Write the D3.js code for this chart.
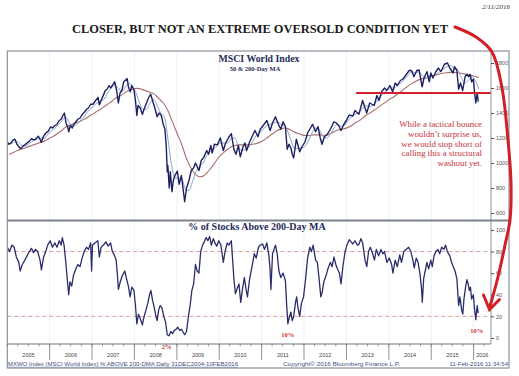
<!DOCTYPE html>
<html><head><meta charset="utf-8">
<script src="https://cdn.jsdelivr.net/npm/d3@7"></script>
<style>body{margin:0;background:#fff}svg{display:block}</style>
</head><body>
<svg id="c" width="519" height="376"></svg>
<script>
// ---------------- DATA ----------------
const priceDates = ["2004-12-31","2005-01-15","2005-02-01","2005-02-20","2005-03-08","2005-03-25","2005-04-15","2005-04-28","2005-05-15","2005-06-01","2005-06-20","2005-07-10","2005-07-28","2005-08-15","2005-09-01","2005-09-25","2005-10-10","2005-10-20","2005-11-10","2005-11-30","2005-12-20",
"2006-01-10","2006-01-25","2006-02-15","2006-03-05","2006-03-25","2006-04-10","2006-04-25","2006-05-08","2006-05-22","2006-06-05","2006-06-14","2006-06-28","2006-07-15","2006-07-28","2006-08-15","2006-09-01","2006-09-20","2006-10-10","2006-10-30","2006-11-15","2006-12-01","2006-12-20",
"2007-01-10","2007-02-01","2007-02-22","2007-03-05","2007-03-20","2007-04-10","2007-04-25","2007-05-10","2007-05-28","2007-06-10","2007-06-28","2007-07-15","2007-08-01","2007-08-16","2007-08-30","2007-09-15","2007-10-01","2007-10-31","2007-11-10","2007-11-26","2007-12-10","2007-12-28",
"2008-01-10","2008-01-22","2008-02-01","2008-02-20","2008-03-10","2008-03-20","2008-04-10","2008-05-01","2008-05-20","2008-06-05","2008-06-25","2008-07-15","2008-08-01","2008-08-20","2008-09-05","2008-09-20","2008-10-01","2008-10-10","2008-10-15","2008-10-27","2008-11-05","2008-11-20","2008-12-01","2008-12-15",
"2009-01-05","2009-01-20","2009-02-09","2009-02-25","2009-03-09","2009-03-25","2009-04-15","2009-05-05","2009-05-25","2009-06-10","2009-07-10","2009-07-30","2009-08-20","2009-09-15","2009-10-01","2009-10-20","2009-11-01","2009-11-20","2009-12-15",
"2010-01-10","2010-02-05","2010-02-25","2010-03-20","2010-04-15","2010-05-07","2010-05-25","2010-06-15","2010-07-01","2010-07-25","2010-08-10","2010-08-25","2010-09-20","2010-10-15","2010-11-05","2010-11-30","2010-12-20",
"2011-01-15","2011-02-15","2011-03-15","2011-04-05","2011-04-30","2011-05-25","2011-06-15","2011-07-05","2011-07-25","2011-08-09","2011-08-25","2011-09-10","2011-09-22","2011-10-04","2011-10-27","2011-11-25","2011-12-15",
"2012-01-10","2012-02-01","2012-03-15","2012-04-10","2012-05-01","2012-05-20","2012-06-04","2012-06-25","2012-07-20","2012-08-15","2012-09-15","2012-10-05","2012-10-25","2012-11-15","2012-12-10","2012-12-31",
"2013-01-25","2013-02-25","2013-03-15","2013-04-18","2013-05-20","2013-06-10","2013-06-24","2013-07-20","2013-08-28","2013-09-20","2013-10-08","2013-10-30","2013-11-25","2013-12-15",
"2014-01-10","2014-02-03","2014-02-25","2014-03-15","2014-04-10","2014-04-30","2014-05-25","2014-06-25","2014-07-15","2014-08-05","2014-08-30","2014-09-18","2014-10-15","2014-10-31","2014-11-25","2014-12-15","2014-12-29",
"2015-01-15","2015-02-10","2015-03-05","2015-03-25","2015-04-25","2015-05-21","2015-06-10","2015-07-08","2015-07-20","2015-08-10","2015-08-25","2015-09-10","2015-09-29","2015-10-20","2015-11-05","2015-11-20","2015-12-02","2015-12-15","2015-12-30",
"2016-01-08","2016-01-20","2016-02-01","2016-02-10"];
const priceValues = [1169,1150,1160,1185,1190,1150,1125,1115,1135,1145,1160,1175,1195,1185,1190,1215,1190,1165,1215,1240,1255,
1290,1280,1300,1310,1340,1350,1380,1400,1320,1290,1250,1300,1280,1310,1330,1350,1360,1390,1410,1430,1440,1470,
1470,1500,1525,1465,1500,1545,1580,1590,1620,1600,1625,1650,1580,1480,1560,1580,1650,1675,1610,1570,1620,1585,
1500,1380,1460,1440,1390,1420,1470,1520,1550,1500,1440,1370,1400,1380,1310,1270,1140,930,980,800,930,770,860,900,
935,830,900,780,690,800,860,940,960,1000,940,1020,1045,1100,1070,1140,1080,1150,1145,
1200,1100,1160,1200,1235,1110,1070,1140,1050,1130,1160,1100,1170,1220,1260,1210,1270,
1300,1340,1260,1320,1370,1310,1270,1330,1290,1110,1150,1120,1070,1040,1190,1090,1130,
1170,1240,1310,1250,1290,1200,1150,1210,1230,1270,1330,1320,1300,1260,1310,1340,
1385,1375,1420,1390,1500,1440,1400,1480,1460,1540,1500,1570,1600,1580,
1620,1570,1640,1620,1660,1670,1700,1740,1740,1690,1740,1745,1610,1680,1730,1650,1720,
1680,1730,1760,1730,1790,1800,1760,1720,1770,1740,1590,1640,1580,1690,1710,1690,1710,1650,1670,
1580,1480,1560,1490];

// moving averages: one value per month, starting January 2005
const maStartMonth = "2005-01";
const ma50Values = [1150,1160,1175,1160,1135,1140,1160,1180,1190,1200,1195,1230,
1255,1280,1305,1335,1370,1330,1295,1305,1335,1360,1400,1430,
1455,1480,1495,1510,1560,1600,1620,1600,1570,1610,1640,1610,
1560,1480,1430,1430,1480,1510,1460,1400,1370,1200,990,880,
880,870,790,780,850,930,970,1000,1060,1090,1110,1140,
1160,1160,1160,1200,1200,1130,1100,1110,1130,1170,1220,1240,
1270,1300,1310,1320,1330,1310,1300,1250,1170,1110,1120,1120,
1140,1190,1250,1280,1260,1210,1200,1230,1280,1310,1295,1300,
1340,1370,1390,1400,1430,1460,1450,1460,1490,1520,1560,1580,
1600,1600,1620,1640,1670,1700,1730,1720,1730,1700,1680,1700,
1700,1710,1730,1750,1770,1780,1760,1750,1690,1640,1660,1690,
1660,1590];
const ma200Values = [1070,1080,1095,1105,1115,1125,1135,1145,1155,1165,1175,1190,
1205,1220,1240,1260,1285,1300,1310,1320,1330,1345,1360,1380,
1395,1415,1430,1450,1470,1490,1515,1530,1545,1565,1580,1590,
1597,1595,1585,1575,1565,1555,1530,1500,1470,1420,1350,1280,
1210,1140,1060,990,940,905,890,895,920,950,990,1030,
1065,1090,1110,1130,1140,1145,1145,1145,1145,1150,1155,1165,
1180,1200,1220,1240,1260,1270,1280,1275,1260,1245,1235,1225,
1220,1220,1225,1225,1225,1222,1222,1235,1250,1262,1270,1275,
1285,1300,1320,1335,1355,1380,1395,1415,1435,1455,1475,1495,
1515,1530,1550,1570,1595,1615,1635,1650,1665,1675,1680,1690,
1700,1705,1712,1718,1722,1725,1725,1722,1718,1712,1705,1700,
1692,1685];

const supportLevel = 1560;
const supportStart = "2013-03-25";

const pctDates = ["2005-01-01","2005-01-20","2005-02-10","2005-03-01","2005-03-20","2005-04-10","2005-04-22","2005-05-10","2005-06-01","2005-06-20","2005-07-10","2005-07-28","2005-08-15","2005-09-01","2005-09-20","2005-10-10","2005-10-22","2005-11-10","2005-11-28","2005-12-15",
"2006-01-05","2006-01-25","2006-02-15","2006-03-05","2006-03-25","2006-04-10","2006-04-20","2006-05-05","2006-05-20","2006-06-01","2006-06-14","2006-06-25","2006-07-10","2006-07-25","2006-08-15","2006-09-01","2006-09-20","2006-10-05","2006-10-25","2006-11-15","2006-12-01","2006-12-20","2006-12-28",
"2007-01-05","2007-01-25","2007-02-20","2007-03-05","2007-03-20","2007-04-10","2007-04-30","2007-05-20","2007-06-10","2007-06-25","2007-07-15","2007-07-28","2007-08-10","2007-08-16","2007-09-01","2007-09-20","2007-10-10","2007-10-25","2007-11-10","2007-11-25","2007-12-10","2007-12-28",
"2008-01-10","2008-01-22","2008-02-05","2008-02-20","2008-03-10","2008-03-20","2008-04-10","2008-04-25","2008-05-10","2008-05-22","2008-06-05","2008-06-20","2008-07-05","2008-07-15","2008-07-28","2008-08-10","2008-08-25","2008-09-10","2008-09-25","2008-10-10","2008-10-25","2008-11-10","2008-11-25","2008-12-10","2008-12-25",
"2009-01-08","2009-01-25","2009-02-10","2009-02-25","2009-03-10","2009-03-25","2009-04-10","2009-04-25","2009-05-10","2009-05-25","2009-06-10","2009-06-25","2009-07-10","2009-07-25","2009-08-10","2009-08-25","2009-09-10","2009-09-25","2009-10-10","2009-10-25","2009-11-10","2009-11-25","2009-12-10","2009-12-28",
"2010-01-15","2010-02-05","2010-02-20","2010-03-10","2010-03-25","2010-04-15","2010-05-07","2010-05-20","2010-06-05","2010-06-20","2010-07-05","2010-07-20","2010-08-05","2010-08-20","2010-09-01","2010-09-20","2010-10-10","2010-10-30","2010-11-15","2010-12-05","2010-12-20",
"2011-01-10","2011-01-25","2011-02-15","2011-03-05","2011-03-15","2011-03-22","2011-04-05","2011-04-30","2011-05-15","2011-05-30","2011-06-15","2011-07-05","2011-07-25","2011-08-05","2011-08-15","2011-08-25","2011-09-10","2011-09-22","2011-10-04","2011-10-20","2011-10-30","2011-11-10","2011-11-25","2011-12-10","2011-12-28",
"2012-01-15","2012-02-01","2012-02-20","2012-03-05","2012-03-20","2012-04-10","2012-04-25","2012-05-10","2012-05-25","2012-06-05","2012-06-20","2012-07-10","2012-07-25","2012-08-15","2012-08-30","2012-09-15","2012-10-01","2012-10-15","2012-11-01","2012-11-15","2012-12-01","2012-12-20",
"2013-01-05","2013-01-25","2013-02-10","2013-02-25","2013-03-15","2013-04-05","2013-04-20","2013-05-05","2013-05-20","2013-06-10","2013-06-25","2013-07-10","2013-07-25","2013-08-15","2013-08-30","2013-09-15","2013-10-05","2013-10-25","2013-11-10","2013-11-25","2013-12-15",
"2014-01-05","2014-01-25","2014-02-05","2014-02-25","2014-03-15","2014-04-05","2014-04-20","2014-05-10","2014-05-30","2014-06-20","2014-07-10","2014-07-25","2014-08-08","2014-08-25","2014-09-10","2014-09-28","2014-10-10","2014-10-16","2014-10-28","2014-11-10","2014-11-25","2014-12-10","2014-12-28",
"2015-01-10","2015-01-25","2015-02-10","2015-02-28","2015-03-15","2015-04-01","2015-04-20","2015-05-05","2015-05-20","2015-06-10","2015-06-25","2015-07-10","2015-07-25","2015-08-10","2015-08-25","2015-09-05","2015-09-20","2015-09-30","2015-10-10","2015-10-25","2015-11-05","2015-11-15","2015-11-25","2015-12-05","2015-12-15","2015-12-30",
"2016-01-08","2016-01-20","2016-02-01","2016-02-10"];
const pctValues = [84,80,86,84,75,70,62,68,72,76,80,83,79,82,80,72,63,75,80,86,
90,84,88,84,90,86,93,86,70,55,40,52,48,58,64,68,66,73,80,84,82,88,62,
86,88,90,75,84,86,89,85,88,80,76,72,55,45,52,58,62,55,48,38,47,44,
30,13,22,18,12,18,26,32,40,44,35,28,20,16,26,30,28,20,15,3,2,6,4,7,8,
10,7,8,5,3,6,20,30,44,50,68,62,60,80,86,89,93,90,94,86,92,88,85,90,
86,70,80,88,86,90,55,41,46,50,33,45,56,45,38,55,66,78,74,84,86,
87,82,88,76,63,45,78,86,78,62,56,60,53,30,13,18,24,16,20,33,38,28,20,32,38,
55,74,84,80,86,72,70,55,38,42,52,58,64,70,66,75,68,64,60,50,66,80,
86,91,89,87,90,86,87,92,88,72,66,80,84,78,72,82,76,82,78,80,70,
74,68,60,72,66,77,70,80,82,84,80,73,65,74,70,58,45,33,55,62,70,64,72,
66,76,80,82,78,84,82,86,80,76,70,66,62,55,30,38,26,22,36,48,54,50,44,47,36,40,
28,17,30,23];
const pctBands = [80, 20];
const pctCallouts = [{date:"2008-10-05", value:2, text:"2%"},{date:"2011-08-15", value:13, text:"10%"},{date:"2016-01-28", value:17, text:"10%"}];

const priceTicks = [600,800,1000,1200,1400,1600,1800];
const pctTicks = [0,20,40,60,80,100];
const yearLabels = ["2005","2006","2007","2008","2009","2010","2011","2012","2013","2014","2015","2016"];

const mainTitle = "CLOSER, BUT NOT AN EXTREME OVERSOLD CONDITION YET";
const dateStamp = "2/11/2016";
const topTitle = "MSCI World Index";
const topSub = "50 & 200-Day MA";
const botTitle = "% of Stocks Above 200-Day MA";
const noteLines = ["While a tactical bounce","wouldn\u2019t surprise us,","we would stop short of","calling this a structural","washout yet."];
const footLeft = "MXWO Index (MSCI World Index) % ABOVE 200-DMA  Daily 31DEC2004-10FEB2016";
const footMid = "Copyright\u00A9 2016 Bloomberg Finance L.P.";
const footRight = "11-Feb-2016 11:34:54";

// ---------------- DRAWING ----------------
const parse = d3.timeParse("%Y-%m-%d");
const svg = d3.select("#c");
const L = 7.3, R = 491, FR = 509;
const topY0 = 51, topY1 = 220, botY0 = 221, botY1 = 344;

const x = d3.scaleTime().domain([new Date(2005,0,1), new Date(2016,4,30)]).range([L, R]);
const yTop = d3.scaleLinear().domain([544, 1896]).range([topY1, topY0]);
const yBot = d3.scaleLinear().domain([-5.6, 108.3]).range([botY1, botY0]);

const price = priceDates.map((d,i)=>({d:parse(d), v:priceValues[i]}));
const ms = d3.timeParse("%Y-%m")(maStartMonth);
const maDate = i => new Date(ms.getFullYear(), ms.getMonth()+i, 15);
const ma50 = ma50Values.map((v,i)=>({d:maDate(i), v}));
const ma200 = ma200Values.map((v,i)=>({d:maDate(i), v}));
const pct = pctDates.map((d,i)=>({d:parse(d), v:pctValues[i]}));

const defs = svg.append("defs");
defs.append("clipPath").attr("id","clipTop").append("rect").attr("x",L).attr("y",topY0).attr("width",R-L).attr("height",topY1-topY0);
defs.append("clipPath").attr("id","clipBot").append("rect").attr("x",L).attr("y",botY0).attr("width",R-L).attr("height",botY1-botY0);

// faint year gridlines
const years = d3.timeYear.range(new Date(2006,0,1), new Date(2016,1,1));
svg.append("g").selectAll("line").data(years).join("line")
  .attr("x1",d=>x(d)).attr("x2",d=>x(d)).attr("y1",topY0).attr("y2",botY1)
  .attr("stroke","#eef1f6").attr("stroke-width",1);

// ---- top panel ----
const gTop = svg.append("g").attr("clip-path","url(#clipTop)");
const lineTop = d3.line().x(d=>x(d.d)).y(d=>yTop(d.v));
gTop.append("path").datum(ma200).attr("d", lineTop.curve(d3.curveMonotoneX))
  .attr("fill","none").attr("stroke","#a8706c").attr("stroke-width",1.1);
gTop.append("path").datum(ma50).attr("d", lineTop.curve(d3.curveMonotoneX))
  .attr("fill","none").attr("stroke","#88a0cc").attr("stroke-width",1);
gTop.append("path").datum(price).attr("d", d3.line().x(d=>x(d.d)).y(d=>yTop(d.v)))
  .attr("fill","none").attr("stroke","#1d2160").attr("stroke-width",1.4).attr("stroke-linejoin","round");
// support line
svg.append("line").attr("x1",x(parse(supportStart))).attr("x2",R).attr("y1",yTop(supportLevel)).attr("y2",yTop(supportLevel))
  .attr("stroke","#d3222c").attr("stroke-width",2);

// ---- bottom panel ----
const gBot = svg.append("g").attr("clip-path","url(#clipBot)");
gBot.selectAll("line.band").data(pctBands).join("line").attr("class","band")
  .attr("x1",L).attr("x2",R).attr("y1",d=>yBot(d)).attr("y2",d=>yBot(d))
  .attr("stroke","#d9a0a0").attr("stroke-width",1).attr("stroke-dasharray","4,3");
gBot.append("path").datum(pct).attr("d", d3.line().x(d=>x(d.d)).y(d=>yBot(d.v)))
  .attr("fill","none").attr("stroke","#2a2d6a").attr("stroke-width",1.3).attr("stroke-linejoin","round");
svg.append("g").selectAll("text").data(pctCallouts).join("text")
  .attr("x",d=>x(parse(d.date))).attr("y",d=>yBot(d.value)+13)
  .attr("text-anchor","middle").attr("font-family","Liberation Serif, serif").attr("font-weight","bold")
  .attr("font-size",6.5).attr("fill","#d2353c").text(d=>d.text);

// ---- frames ----
const frame = svg.append("g").attr("fill","none").attr("stroke","#8c929c");
frame.append("rect").attr("x",L).attr("y",topY0).attr("width",FR-L).attr("height",368-topY0).attr("stroke-width",1.2);
frame.append("line").attr("x1",R).attr("x2",R).attr("y1",topY0).attr("y2",botY1).attr("stroke-width",1);
frame.append("line").attr("x1",L).attr("x2",FR).attr("y1",220.5).attr("y2",220.5).attr("stroke-width",2).attr("stroke","#7d838d");
frame.append("line").attr("x1",L).attr("x2",R).attr("y1",botY1).attr("y2",botY1).attr("stroke-width",1).attr("stroke","#6d737d");

// ---- right axes ----
const axFont = "Liberation Sans, Arial, sans-serif";
function styleAxis(g){
  g.select(".domain").remove();
  g.selectAll(".tick line").attr("stroke","#555");
  g.selectAll(".tick text").attr("font-family",axFont).attr("font-size",5.5).attr("fill","#555");
}
svg.append("g").attr("transform",`translate(${R},0)`)
  .call(d3.axisRight(yTop).tickValues(priceTicks).tickFormat(d3.format("d")).tickSize(3).tickPadding(2)).call(styleAxis);
svg.append("g").attr("transform",`translate(${R},0)`)
  .call(d3.axisRight(yBot).tickValues(pctTicks).tickFormat(d3.format("d")).tickSize(3).tickPadding(2)).call(styleAxis);

// ---- bottom time axis ----
const yearStarts = d3.timeYear.range(new Date(2005,0,1), new Date(2017,0,1));
svg.append("g").selectAll("line").data(yearStarts.slice(1)).join("line")
  .attr("x1",d=>x(d)).attr("x2",d=>x(d)).attr("y1",botY1).attr("y2",360)
  .attr("stroke","#777").attr("stroke-width",0.8);
const quarters = d3.timeMonth.every(3).range(new Date(2005,0,1), new Date(2016,4,1));
svg.append("g").selectAll("line").data(quarters).join("line")
  .attr("x1",d=>x(d)).attr("x2",d=>x(d)).attr("y1",botY1).attr("y2",botY1+2.5)
  .attr("stroke","#777").attr("stroke-width",0.7);
svg.append("g").selectAll("text").data(yearLabels).join("text")
  .attr("x",(d,i)=>{const a=x(yearStarts[i]); const b=Math.min(R, x(yearStarts[i+1]||new Date(2017,0,1))); return (a+b)/2;})
  .attr("y",357).attr("text-anchor","middle").attr("font-family",axFont).attr("font-size",5.5).attr("fill","#444").text(d=>d);

// footer
const foot = svg.append("g").attr("font-family",axFont).attr("font-size",6).attr("fill","#44507e");
foot.append("text").attr("x",8).attr("y",366).attr("textLength",230).attr("lengthAdjust","spacingAndGlyphs").text(footLeft);
foot.append("line").attr("x1",8).attr("x2",238).attr("y1",367.2).attr("y2",367.2).attr("stroke","#6a74a0").attr("stroke-width",0.5);
foot.append("text").attr("x",283).attr("y",366).attr("textLength",117).attr("lengthAdjust","spacingAndGlyphs").text(footMid);
foot.append("text").attr("x",508).attr("y",366).attr("text-anchor","end").text(footRight);

// ---- titles ----
const serif = "Liberation Serif, Times New Roman, serif";
svg.append("text").attr("x",72).attr("y",33).attr("textLength",376).attr("lengthAdjust","spacingAndGlyphs")
  .attr("font-family",serif).attr("font-weight","bold").attr("font-size",13.2).attr("fill","#1a1a1a").text(mainTitle);
svg.append("text").attr("x",510).attr("y",9).attr("text-anchor","end").attr("font-family",serif)
  .attr("font-style","italic").attr("font-size",7).attr("fill","#333").text(dateStamp);
svg.append("text").attr("x",259).attr("y",61.5).attr("text-anchor","middle").attr("font-family",serif)
  .attr("font-weight","bold").attr("font-size",9.8).attr("fill","#1f2b5a").text(topTitle);
svg.append("text").attr("x",255).attr("y",71).attr("text-anchor","middle").attr("font-family",serif)
  .attr("font-weight","bold").attr("font-size",6.5).attr("fill","#1f2b5a").text(topSub);
svg.append("text").attr("x",257).attr("y",230).attr("text-anchor","middle").attr("font-family",serif)
  .attr("font-weight","bold").attr("font-size",10).attr("fill","#1f2b5a").text(botTitle);

// note text
svg.append("g").selectAll("text").data(noteLines).join("text")
  .attr("x",482).attr("y",(d,i)=>127.3+i*9.7).attr("text-anchor","end")
  .attr("font-family",serif).attr("font-size",8.8).attr("fill","#c8333b").text(d=>d);

// ---- big red arrow (annotation) ----
const arrowPts = [[455,27],[476,37],[492,52],[502,88],[508,140],[511,183],[510,220],[505,245],[498,277],[489.5,308]];
svg.append("path").attr("d", d3.line().curve(d3.curveCatmullRom)(arrowPts))
  .attr("fill","none").attr("stroke","#d41f27").attr("stroke-width",3).attr("stroke-linecap","round");
svg.append("path").attr("d", d3.line()([[483.5,295],[489.5,309.5],[499.5,299.5]]))
  .attr("fill","none").attr("stroke","#d41f27").attr("stroke-width",3).attr("stroke-linecap","round").attr("stroke-linejoin","miter");
</script>
</body></html>
